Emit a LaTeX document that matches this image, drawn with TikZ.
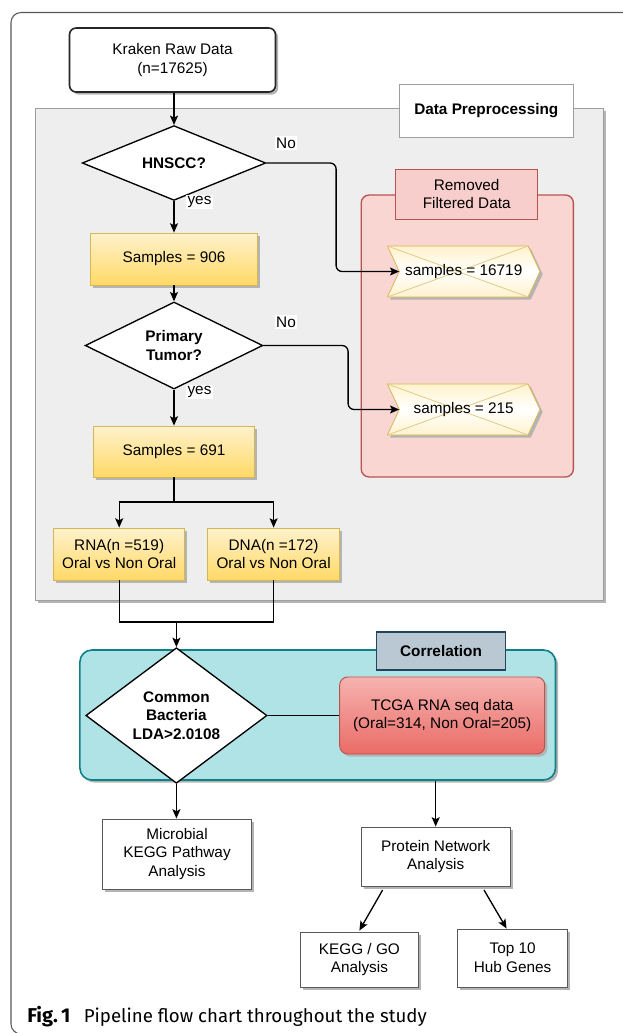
\documentclass[tikz,border=0pt]{standalone}
\usepackage{fontspec}
\setmainfont{Liberation Sans}
\newfontfamily\capfont{Fira Sans}
\usetikzlibrary{shapes.geometric,arrows.meta,shadows,calc}
\definecolor{ytop}{HTML}{FFF2CC}
\definecolor{ybot}{HTML}{FFD966}
\definecolor{ybord}{HTML}{D6B656}
\definecolor{grayfill}{HTML}{EEEEEE}
\definecolor{grayline}{HTML}{9E9E9E}
\definecolor{redfill}{HTML}{FAD6D3}
\definecolor{redlab}{HTML}{F8CECC}
\definecolor{redline}{HTML}{B85450}
\definecolor{redbot}{HTML}{EA6B66}
\definecolor{redtop}{HTML}{F6B3B0}
\definecolor{tealfill}{HTML}{B0E3E6}
\definecolor{tealline}{HTML}{0E8088}
\definecolor{corrfill}{HTML}{BAC8D3}
\definecolor{corrline}{HTML}{23445D}
\definecolor{chevline}{HTML}{E2CB86}
\definecolor{shadcol}{HTML}{B4B4B4}
\tikzset{
  sz/.style 2 args={minimum width=#1*0.75pt, minimum height=#2*0.75pt},
  base/.style={inner sep=0pt, align=center, font=\fontsize{11.5}{14}\selectfont},
  shad/.style={drop shadow={shadow xshift=2pt, shadow yshift=-2pt, opacity=1, fill=shadcol}},
  ybox/.style={base, draw=ybord, line width=0.6pt, top color=ytop, bottom color=ybot, shad},
  wbox/.style={base, draw=black!65, line width=0.7pt, fill=white, shad},
  dia/.style={base, diamond, draw=black, line width=1pt, fill=white, font=\fontsize{11.5}{14}\selectfont\bfseries},
  conn/.style={line width=1pt, -{Stealth[length=7pt,width=6pt,inset=1.5pt]}},
  plain/.style={line width=1pt},
  lab/.style={base, fill=white, inner sep=1pt},
}
\newcommand{\chevshape}[1]{%
  \draw[draw=ybord, line width=0.6pt, top color=ytop, bottom color=ytop, middle color=white, shad]
    ($(#1)+(-76.3,-25.5)$) -- ($(#1)+(64.4,-25.5)$) -- ($(#1)+(76.3,0)$) -- ($(#1)+(64.4,25.5)$)
    -- ($(#1)+(-76.3,25.5)$) -- ($(#1)+(-64.4,0)$) -- cycle;
  \draw[draw=chevline, line width=0.6pt] ($(#1)+(-76.3,-25.5)$) -- ($(#1)+(64.4,25.5)$);
  \draw[draw=chevline, line width=0.6pt] ($(#1)+(-76.3,25.5)$) -- ($(#1)+(64.4,-25.5)$);
}
\begin{document}
\begin{tikzpicture}[x=0.75pt,y=-0.75pt]
\useasboundingbox (0,0) rectangle (623,1033);
\fill[white] (0,0) rectangle (623,1033);
% outer frame
\draw[line width=0.8pt, black!65, rounded corners=7.5pt] (640,12.5) -- (11,12.5) -- (11,1034) -- (40,1034);

% containers
\node[base, sz={567.5}{492}, draw=grayline, fill=grayfill, line width=0.6pt, shad] (prep) at (319.5,354) {};
\node[base, sz={174}{53}, draw=grayline, fill=white, line width=0.7pt, font=\fontsize{11.5}{14}\selectfont\bfseries] (preplab) at (486.3,110.5) {Data Preprocessing};

\node[base, sz={212.2}{282}, draw=redline, fill=redfill, line width=1pt, rounded corners=6pt] (removed) at (467.3,336) {};
\node[base, sz={141.8}{50}, draw=redline, fill=redlab, line width=0.7pt] (removedlab) at (466.7,194) {Removed\\Filtered Data};

\node[base, sz={475.6}{130}, draw=tealline, fill=tealfill, line width=1.2pt, rounded corners=9pt, shad] (corr) at (317.7,715) {};
\node[base, sz={128.7}{38}, draw=corrline, fill=corrfill, line width=0.9pt, font=\fontsize{11.5}{14}\selectfont\bfseries] (corrlab) at (441,651) {Correlation};

% main nodes
\node[base, sz={206}{64}, draw=black!85, fill=white, line width=1.2pt, rounded corners=5pt, shad] (kraken) at (172.5,60) {Kraken Raw Data\\(n=17625)};
\node[dia, sz={183.6}{60}] (hnscc) at (174,163) {HNSCC?};
\node[ybox, sz={166.9}{52}] (s906) at (174,259) {Samples = 906};
\node[dia, sz={177.6}{63}] (pt) at (174,345.5) {Primary\\Tumor?};
\node[ybox, sz={160.9}{51}] (s691) at (174,451.5) {Samples = 691};
\node[ybox, sz={131.1}{52}] (rna) at (119.2,554) {RNA(n =519)\\Oral vs Non Oral};
\node[ybox, sz={132.3}{52}] (dna) at (273.6,554) {DNA(n =172)\\Oral vs Non Oral};

\node[dia, sz={181.2}{103}] (common) at (176.4,715.5) {Common\\Bacteria\\LDA>2.0108};
\node[base, sz={205}{77}, draw=redline, line width=0.7pt, top color=redtop, bottom color=redbot, rounded corners=6pt, shad] (tcga) at (442.2,715.5) {TCGA RNA seq data\\(Oral=314, Non Oral=205)};

\node[wbox, sz={149}{70}] (microbial) at (177,854) {Microbial\\KEGG Pathway\\Analysis};
\node[wbox, sz={149}{59}] (protein) at (435.7,856.5) {Protein Network\\Analysis};
\node[wbox, sz={118}{55}] (keggo) at (359.4,959.5) {KEGG / GO\\Analysis};
\node[wbox, sz={109.7}{58}] (top10) at (512.6,958) {Top 10\\Hub Genes};

% chevrons
\coordinate (s1) at (463.7,271.5);
\coordinate (s2) at (463.7,409.5);
\chevshape{s1}
\chevshape{s2}
\node[base] (s1t) at (s1) {samples = 16719};
\node[base] (s2t) at (s2) {samples = 215};
\coordinate (s1n) at ($(s1)+(-64.4,0)$);
\coordinate (s2n) at ($(s2)+(-64.4,0)$);

% connectors
\draw[conn] (kraken.south -| hnscc.north) -- (hnscc.north);
\draw[conn] (hnscc.south) -- (s906.north);
\draw[conn] (s906.south) -- (pt.north);
\draw[conn] (pt.south) -- (s691.north);
\draw[conn, rounded corners=4.5pt] (hnscc.east) -- (336.1,163) -- (336.1,271.5) -- (s1n);
\draw[conn, rounded corners=4.5pt] (pt.east) -- (348.1,345.5) -- (348.1,409.5) -- (s2n);
\node[lab] (no1) at (286,143) {No};
\node[lab] (yes1) at (199.5,202) {yes};
\node[lab] (no2) at (286,322) {No};
\node[lab] (yes2) at (199.5,392) {yes};

\coordinate (split) at (174,502);
\draw[plain] (s691.south) -- (split);
\draw[conn] (split) -| (rna.north);
\draw[conn] (split) -| (dna.north);
\coordinate (join) at (176.4,622);
\draw[plain] (rna.south) |- (join);
\draw[plain] (dna.south) |- (join);
\draw[conn] (join) -- (common.north);
\draw[plain] (common.east) -- (tcga.west);
\draw[conn] (common.south) -- (microbial.north -| common.south);
\draw[conn] (protein.north |- corr.south) -- (protein.north);
\coordinate (pa) at (382.6,890);
\coordinate (pb) at (484,890);
\draw[conn] (pa) -- ($(keggo.north)+(0,-1)$);
\draw[conn] (pb) -- ($(top10.north)+(-6,0)$);

% caption
\node[anchor=base west, inner sep=0pt, font=\capfont\fontsize{14}{16}\selectfont] (caption) at (27,1022) {{\fontsize{15}{16}\selectfont\bfseries Fig.\,1}\hspace{10pt}Pipeline flow chart throughout the study};
\end{tikzpicture}
\end{document}
